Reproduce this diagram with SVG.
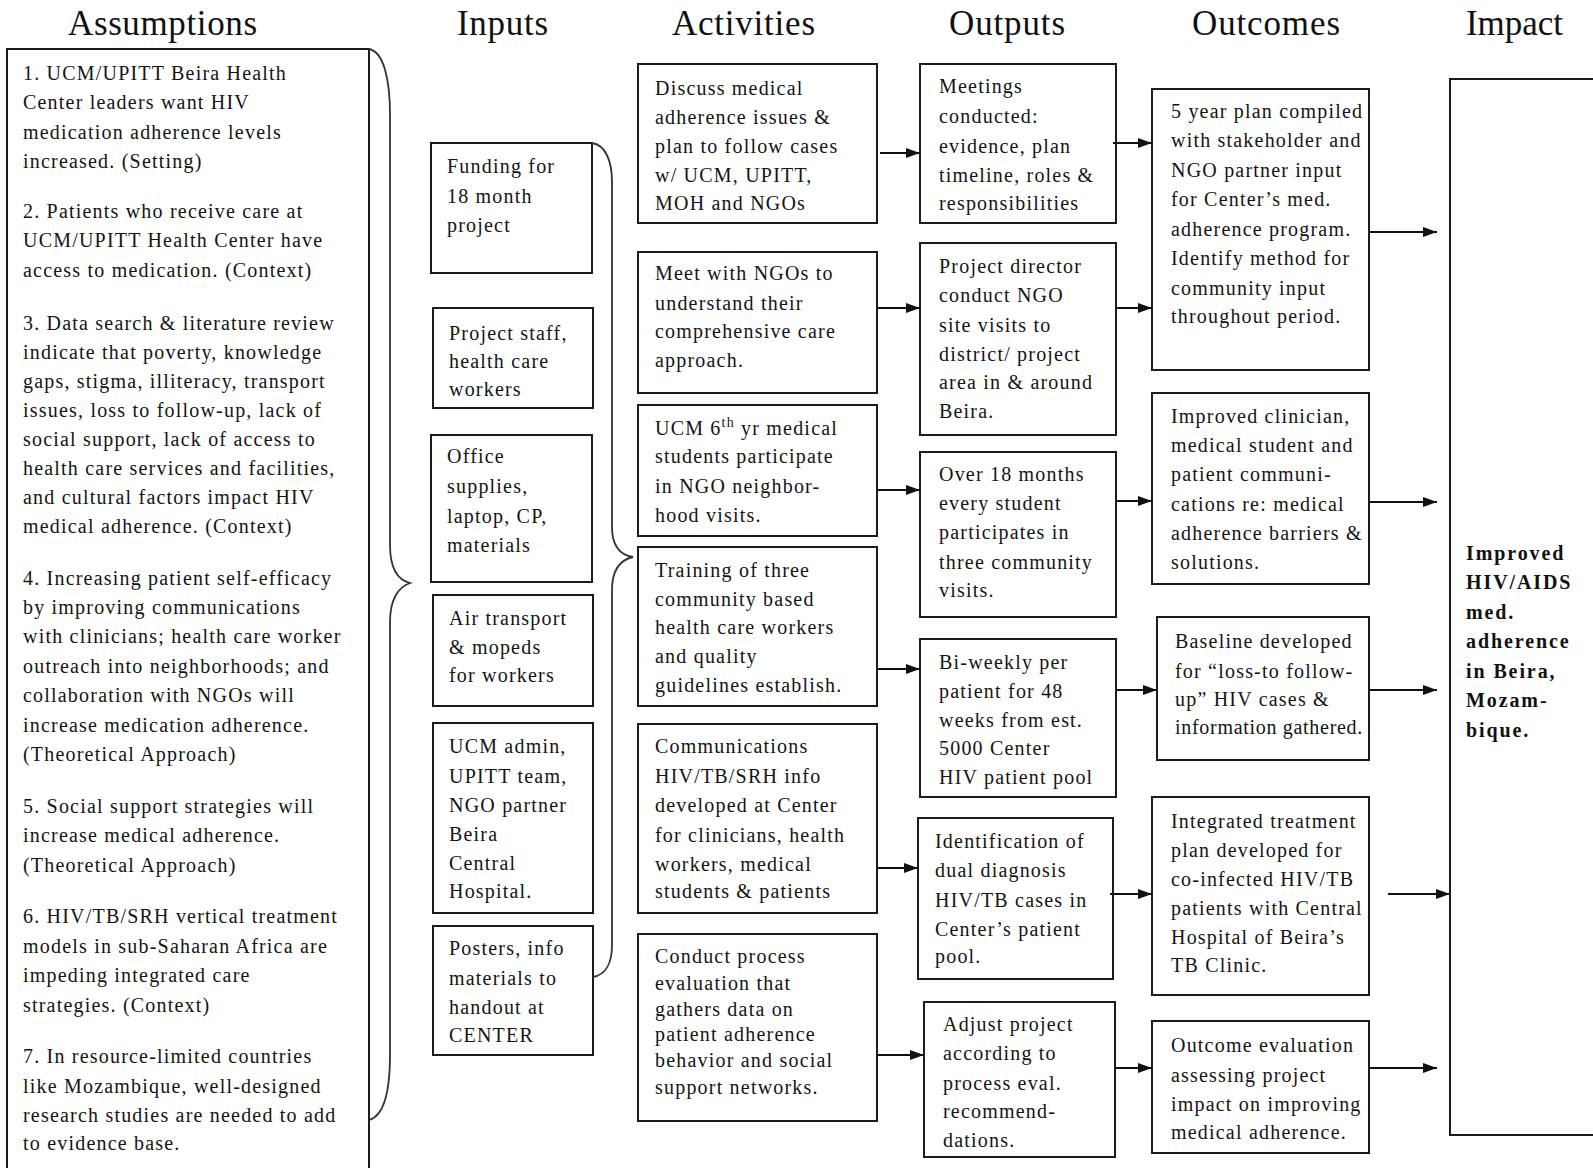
<svg xmlns="http://www.w3.org/2000/svg" width="1593" height="1168" viewBox="0 0 1593 1168">
<style>
  .bg{fill:#ffffff}
  .box{fill:#ffffff;stroke:#1c1c1c;stroke-width:2}
  .brace{fill:none;stroke:#333333;stroke-width:1.8}
  .hd{font-family:'Liberation Serif','Times New Roman',serif;font-size:35px;fill:#111111}
  .t{font-family:'Liberation Serif','Times New Roman',serif;font-size:20px;fill:#141414;letter-spacing:1.2px}
  .b{font-family:'Liberation Serif','Times New Roman',serif;font-size:20px;font-weight:bold;fill:#111111;letter-spacing:1.9px}
  .conn line{stroke:#111111;stroke-width:1.8}
</style>
<defs>
  <marker id="ah" markerUnits="userSpaceOnUse" markerWidth="14" markerHeight="10" refX="14" refY="5" orient="auto">
    <path d="M0,0 L14,5 L0,10 z" fill="#111111"/>
  </marker>
</defs>
<rect class="bg" x="0" y="0" width="1593" height="1168"/>

<g id="headings">
  <text class="hd" x="68" y="35" textLength="189">Assumptions</text>
  <text class="hd" x="457" y="35" textLength="91">Inputs</text>
  <text class="hd" x="672" y="35" textLength="143">Activities</text>
  <text class="hd" x="949" y="35" textLength="116">Outputs</text>
  <text class="hd" x="1192" y="35" textLength="148">Outcomes</text>
  <text class="hd" x="1466" y="35" textLength="97">Impact</text>
</g>

<g id="assumptions">
  <rect class="box" x="7" y="49" width="362" height="1140"/>
  <text class="t">
    <tspan x="23" y="80">1. UCM/UPITT Beira Health</tspan>
    <tspan x="23" y="109">Center leaders want HIV</tspan>
    <tspan x="23" y="139">medication adherence levels</tspan>
    <tspan x="23" y="168">increased. (Setting)</tspan>
    <tspan x="23" y="218">2. Patients who receive care at</tspan>
    <tspan x="23" y="247">UCM/UPITT Health Center have</tspan>
    <tspan x="23" y="277">access to medication. (Context)</tspan>
    <tspan x="23" y="330">3. Data search &amp; literature review</tspan>
    <tspan x="23" y="359">indicate that poverty, knowledge</tspan>
    <tspan x="23" y="388">gaps, stigma, illiteracy, transport</tspan>
    <tspan x="23" y="417">issues, loss to follow-up, lack of</tspan>
    <tspan x="23" y="446">social support,  lack of access to</tspan>
    <tspan x="23" y="475">health care services and facilities,</tspan>
    <tspan x="23" y="504">and cultural factors impact HIV</tspan>
    <tspan x="23" y="533">medical adherence. (Context)</tspan>
    <tspan x="23" y="585">4.  Increasing patient self-efficacy</tspan>
    <tspan x="23" y="614">by improving communications</tspan>
    <tspan x="23" y="643">with clinicians; health care worker</tspan>
    <tspan x="23" y="673">outreach into neighborhoods; and</tspan>
    <tspan x="23" y="702">collaboration with NGOs will</tspan>
    <tspan x="23" y="732">increase medication adherence.</tspan>
    <tspan x="23" y="761">(Theoretical Approach)</tspan>
    <tspan x="23" y="813">5. Social support strategies will</tspan>
    <tspan x="23" y="842">increase medical adherence.</tspan>
    <tspan x="23" y="872">(Theoretical Approach)</tspan>
    <tspan x="23" y="923">6. HIV/TB/SRH vertical treatment</tspan>
    <tspan x="23" y="953">models in sub-Saharan Africa are</tspan>
    <tspan x="23" y="982">impeding integrated care</tspan>
    <tspan x="23" y="1012">strategies. (Context)</tspan>
    <tspan x="23" y="1063">7. In resource-limited countries</tspan>
    <tspan x="23" y="1093">like Mozambique, well-designed</tspan>
    <tspan x="23" y="1122">research studies are needed to add</tspan>
    <tspan x="23" y="1150">to evidence base.</tspan>
  </text>
</g>

<g id="brace-assumptions">
  <path class="brace" d="M369,49 C384,52 390,80 390,115 L390,545 C390,568 398,580 410,583 C398,587 390,600 390,622 L390,1055 C390,1092 384,1116 369,1120"/>
</g>

<g id="in-funding">
  <rect class="box" x="431" y="143" width="161" height="130"/>
  <text class="t"><tspan x="447" y="173">Funding for</tspan><tspan x="447" y="203">18 month</tspan><tspan x="447" y="232">project</tspan></text>
</g>
<g id="in-staff">
  <rect class="box" x="433" y="308" width="160" height="100"/>
  <text class="t"><tspan x="449" y="340">Project staff,</tspan><tspan x="449" y="368">health care</tspan><tspan x="449" y="396">workers</tspan></text>
</g>
<g id="in-office">
  <rect class="box" x="431" y="435" width="161" height="147"/>
  <text class="t"><tspan x="447" y="463">Office</tspan><tspan x="447" y="493">supplies,</tspan><tspan x="447" y="523">laptop, CP,</tspan><tspan x="447" y="552">materials</tspan></text>
</g>
<g id="in-transport">
  <rect class="box" x="433" y="595" width="160" height="111"/>
  <text class="t"><tspan x="449" y="625">Air transport</tspan><tspan x="449" y="654">&amp; mopeds</tspan><tspan x="449" y="682">for workers</tspan></text>
</g>
<g id="in-admin">
  <rect class="box" x="433" y="723" width="160" height="190"/>
  <text class="t"><tspan x="449" y="753">UCM admin,</tspan><tspan x="449" y="783">UPITT team,</tspan><tspan x="449" y="812">NGO partner</tspan><tspan x="449" y="841">Beira</tspan><tspan x="449" y="870">Central</tspan><tspan x="449" y="898">Hospital.</tspan></text>
</g>
<g id="in-posters">
  <rect class="box" x="433" y="926" width="160" height="129"/>
  <text class="t"><tspan x="449" y="955">Posters, info</tspan><tspan x="449" y="985">materials to</tspan><tspan x="449" y="1014">handout at</tspan><tspan x="449" y="1042">CENTER</tspan></text>
</g>

<g id="brace-inputs">
  <path class="brace" d="M592,143 C605,145 612,160 612,182 L612,527 C612,546 620,555 633,557 C620,560 612,570 612,590 L612,945 C612,964 605,975 593,977"/>
</g>

<g id="act-discuss">
  <rect class="box" x="638" y="64" width="239" height="159"/>
  <text class="t"><tspan x="655" y="95">Discuss medical</tspan><tspan x="655" y="124">adherence issues &amp;</tspan><tspan x="655" y="153">plan to follow cases</tspan><tspan x="655" y="182">w/ UCM, UPITT,</tspan><tspan x="655" y="210">MOH and NGOs</tspan></text>
</g>
<g id="act-meet">
  <rect class="box" x="638" y="252" width="239" height="141"/>
  <text class="t"><tspan x="655" y="280">Meet with NGOs to</tspan><tspan x="655" y="310">understand their</tspan><tspan x="655" y="338">comprehensive care</tspan><tspan x="655" y="367">approach.</tspan></text>
</g>
<g id="act-students">
  <rect class="box" x="638" y="405" width="239" height="131"/>
  <text class="t"><tspan x="655" y="435">UCM 6</tspan><tspan dy="-8" font-size="14">th</tspan><tspan dy="8"> yr medical</tspan><tspan x="655" y="463">students participate</tspan><tspan x="655" y="493">in NGO neighbor-</tspan><tspan x="655" y="522">hood visits.</tspan></text>
</g>
<g id="act-training">
  <rect class="box" x="638" y="547" width="239" height="159"/>
  <text class="t"><tspan x="655" y="577">Training of three</tspan><tspan x="655" y="606">community based</tspan><tspan x="655" y="634">health care workers</tspan><tspan x="655" y="663">and quality</tspan><tspan x="655" y="692">guidelines establish.</tspan></text>
</g>
<g id="act-communications">
  <rect class="box" x="638" y="724" width="239" height="189"/>
  <text class="t"><tspan x="655" y="753">Communications</tspan><tspan x="655" y="783">HIV/TB/SRH info</tspan><tspan x="655" y="812">developed at Center</tspan><tspan x="655" y="842">for clinicians, health</tspan><tspan x="655" y="871">workers, medical</tspan><tspan x="655" y="898">students  &amp; patients</tspan></text>
</g>
<g id="act-evaluation">
  <rect class="box" x="638" y="934" width="239" height="187"/>
  <text class="t"><tspan x="655" y="963">Conduct process</tspan><tspan x="655" y="990">evaluation that</tspan><tspan x="655" y="1016">gathers data on</tspan><tspan x="655" y="1041">patient adherence</tspan><tspan x="655" y="1067">behavior and social</tspan><tspan x="655" y="1094">support networks.</tspan></text>
</g>

<g id="out-meetings">
  <rect class="box" x="920" y="64" width="196" height="159"/>
  <text class="t"><tspan x="939" y="93">Meetings</tspan><tspan x="939" y="123">conducted:</tspan><tspan x="939" y="153">evidence, plan</tspan><tspan x="939" y="182">timeline, roles &amp;</tspan><tspan x="939" y="210">responsibilities</tspan></text>
</g>
<g id="out-sitevisits">
  <rect class="box" x="920" y="243" width="196" height="192"/>
  <text class="t"><tspan x="939" y="273">Project director</tspan><tspan x="939" y="302">conduct NGO</tspan><tspan x="939" y="332">site visits to</tspan><tspan x="939" y="361">district/ project</tspan><tspan x="939" y="389">area in &amp; around</tspan><tspan x="939" y="418">Beira.</tspan></text>
</g>
<g id="out-studentvisits">
  <rect class="box" x="920" y="452" width="196" height="165"/>
  <text class="t"><tspan x="939" y="481">Over 18 months</tspan><tspan x="939" y="510">every student</tspan><tspan x="939" y="539">participates in</tspan><tspan x="939" y="569">three community</tspan><tspan x="939" y="597">visits.</tspan></text>
</g>
<g id="out-biweekly">
  <rect class="box" x="920" y="639" width="196" height="158"/>
  <text class="t"><tspan x="939" y="669">Bi-weekly per</tspan><tspan x="939" y="698">patient for 48</tspan><tspan x="939" y="727">weeks from est.</tspan><tspan x="939" y="755">5000 Center</tspan><tspan x="939" y="784">HIV patient pool</tspan></text>
</g>
<g id="out-identification">
  <rect class="box" x="918" y="818" width="195" height="161"/>
  <text class="t"><tspan x="935" y="848">Identification of</tspan><tspan x="935" y="877">dual diagnosis</tspan><tspan x="935" y="907">HIV/TB cases in</tspan><tspan x="935" y="936">Center’s patient</tspan><tspan x="935" y="963">pool.</tspan></text>
</g>
<g id="out-adjust">
  <rect class="box" x="924" y="1002" width="191" height="155"/>
  <text class="t"><tspan x="943" y="1031">Adjust project</tspan><tspan x="943" y="1060">according to</tspan><tspan x="943" y="1090">process eval.</tspan><tspan x="943" y="1118">recommend-</tspan><tspan x="943" y="1147">dations.</tspan></text>
</g>

<g id="oc-plan">
  <rect class="box" x="1152" y="89" width="217" height="281"/>
  <text class="t"><tspan x="1171" y="118">5 year plan compiled</tspan><tspan x="1171" y="147">with stakeholder and</tspan><tspan x="1171" y="177">NGO partner input</tspan><tspan x="1171" y="206">for Center’s med.</tspan><tspan x="1171" y="236">adherence program.</tspan><tspan x="1171" y="265">Identify method for</tspan><tspan x="1171" y="295">community input</tspan><tspan x="1171" y="323">throughout period.</tspan></text>
</g>
<g id="oc-communication">
  <rect class="box" x="1152" y="393" width="217" height="191"/>
  <text class="t"><tspan x="1171" y="423">Improved clinician,</tspan><tspan x="1171" y="452">medical student and</tspan><tspan x="1171" y="481">patient communi-</tspan><tspan x="1171" y="511">cations re: medical</tspan><tspan x="1171" y="540">adherence barriers &amp;</tspan><tspan x="1171" y="569">solutions.</tspan></text>
</g>
<g id="oc-baseline">
  <rect class="box" x="1157" y="617" width="212" height="143"/>
  <text class="t"><tspan x="1175" y="648">Baseline developed</tspan><tspan x="1175" y="678">for “loss-to follow-</tspan><tspan x="1175" y="706">up” HIV cases &amp;</tspan><tspan x="1175" y="734" letter-spacing="0.7">information gathered.</tspan></text>
</g>
<g id="oc-integrated">
  <rect class="box" x="1152" y="797" width="217" height="198"/>
  <text class="t"><tspan x="1171" y="828">Integrated treatment</tspan><tspan x="1171" y="857">plan developed for</tspan><tspan x="1171" y="886">co-infected HIV/TB</tspan><tspan x="1171" y="915">patients with Central</tspan><tspan x="1171" y="944">Hospital of Beira’s</tspan><tspan x="1171" y="972">TB Clinic.</tspan></text>
</g>
<g id="oc-evaluation">
  <rect class="box" x="1152" y="1021" width="217" height="132"/>
  <text class="t"><tspan x="1171" y="1052">Outcome evaluation</tspan><tspan x="1171" y="1082">assessing project</tspan><tspan x="1171" y="1111">impact on improving</tspan><tspan x="1171" y="1139">medical adherence.</tspan></text>
</g>

<g id="impact">
  <rect class="box" x="1450" y="79" width="170" height="1056"/>
  <text class="b"><tspan x="1466" y="560">Improved</tspan><tspan x="1466" y="589">HIV/AIDS</tspan><tspan x="1466" y="619">med.</tspan><tspan x="1466" y="648">adherence</tspan><tspan x="1466" y="678">in Beira,</tspan><tspan x="1466" y="707">Mozam-</tspan><tspan x="1466" y="737">bique.</tspan></text>
</g>

<g id="connectors" class="conn">
  <line x1="880" y1="153" x2="920" y2="153" marker-end="url(#ah)"/>
  <line x1="877" y1="308" x2="920" y2="308" marker-end="url(#ah)"/>
  <line x1="877" y1="490" x2="920" y2="490" marker-end="url(#ah)"/>
  <line x1="877" y1="669" x2="920" y2="669" marker-end="url(#ah)"/>
  <line x1="877" y1="868" x2="918" y2="868" marker-end="url(#ah)"/>
  <line x1="877" y1="1055" x2="924" y2="1055" marker-end="url(#ah)"/>
  <line x1="1113" y1="143" x2="1152" y2="143" marker-end="url(#ah)"/>
  <line x1="1116" y1="308" x2="1152" y2="308" marker-end="url(#ah)"/>
  <line x1="1116" y1="501" x2="1152" y2="501" marker-end="url(#ah)"/>
  <line x1="1116" y1="690" x2="1157" y2="690" marker-end="url(#ah)"/>
  <line x1="1110" y1="894" x2="1152" y2="894" marker-end="url(#ah)"/>
  <line x1="1116" y1="1068" x2="1152" y2="1068" marker-end="url(#ah)"/>
  <line x1="1370" y1="232" x2="1437" y2="232" marker-end="url(#ah)"/>
  <line x1="1370" y1="502" x2="1437" y2="502" marker-end="url(#ah)"/>
  <line x1="1370" y1="690" x2="1437" y2="690" marker-end="url(#ah)"/>
  <line x1="1388" y1="894" x2="1450" y2="894" marker-end="url(#ah)"/>
  <line x1="1370" y1="1068" x2="1437" y2="1068" marker-end="url(#ah)"/>
</g>
</svg>
